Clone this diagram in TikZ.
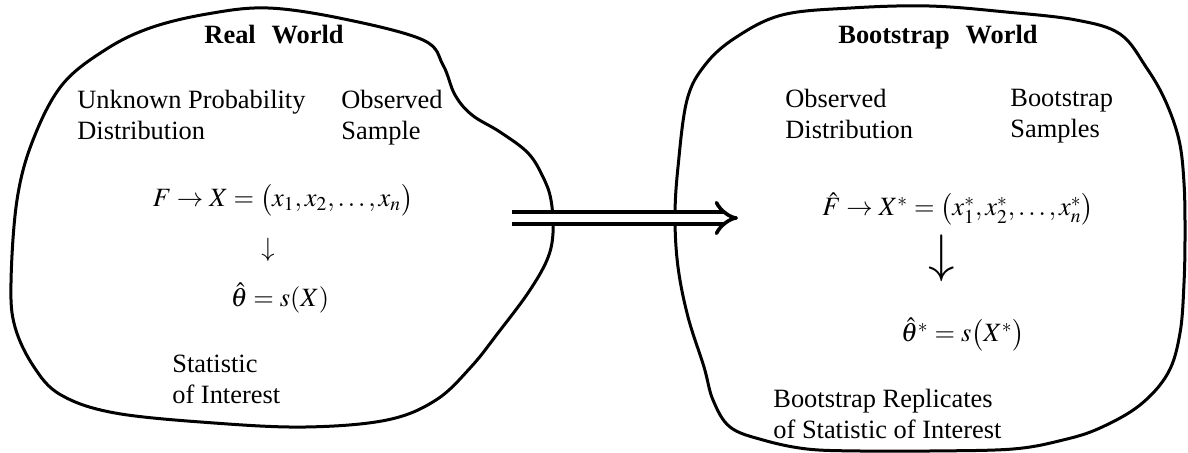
\documentclass[tikz,border=0pt]{standalone}
\usepackage{mathptmx}
\usepackage[no-math]{fontspec}
\setmainfont{Liberation Serif}
\usetikzlibrary{positioning}
\usetikzlibrary{arrows.meta}

\begin{document}
\begin{tikzpicture}[x=0.5pt, y=-0.5pt,
  blob/.style={line width=1.5pt, line join=round},
  txt/.style={anchor=north west, align=left, inner sep=0pt, font=\fontsize{13.2}{15.5}\selectfont},
  title/.style={anchor=base, inner sep=0pt, font=\fontsize{13.2}{15.5}\selectfont\bfseries},
  formula/.style={anchor=base, inner sep=0pt, font=\fontsize{13.2}{15.5}\selectfont}]
  \useasboundingbox (0,0) rectangle (1188,453);
  % real world
  \draw[blob] plot[smooth cycle, tension=0.6] coordinates {
    (207,14) (268,8) (344,19) (423,40) (443,65) (455,95) (472,115) (500,132)
    (528,153) (543,177) (551,200) (553,233) (547,260) (528,293) (498,333)
    (471,367) (436,400) (387,420) (306,427) (214,423) (115,413) (61,395)
    (34,367) (15,327) (11,283) (17,200) (33,140) (62,85) (105,50) (150,28)};
  \node(realtitle) [title] at (274,44) {Real\hspace{0.6em}World};
  \node(unknowndist) [txt] at (77,90) {Unknown Probability\\Distribution};
  \node(observedsample) [txt] at (341,90) {Observed\\Sample};
  \node(realsample) [formula] at (283,207) {$F \rightarrow X = \bigl(x_1, x_2, \ldots, x_n\bigr)$};
  \node(realarrow) [formula, anchor=center] at (268,250) {$\downarrow$};
  \node(realstat) [formula] at (280,307) {$\hat{\theta} = s(X)$};
  \node(statinterest) [txt] at (172,355) {Statistic\\of Interest};
  % bootstrap world
  \draw[blob] plot[smooth cycle, tension=0.6] coordinates {
    (782,15) (851,8) (929,6) (1006,12) (1076,20) (1120,34) (1146,67)
    (1165,100) (1179,140) (1184,183) (1185,233) (1184,283) (1180,333)
    (1168,373) (1140,405) (1100,428) (1063,440) (1013,449) (930,451)
    (860,451) (807,449) (763,440) (730,427) (713,400) (704,367) (688,317)
    (678,267) (675,217) (678,167) (687,100) (705,65) (735,38)};
  \node(boottitle) [title] at (938,44) {Bootstrap\hspace{0.6em}World};
  \node(observeddist) [txt] at (785,89) {Observed\\Distribution};
  \node(bootsamples) [txt] at (1010,89) {Bootstrap\\Samples};
  \node(bootsample) [formula] at (958,216) {$\hat{F} \rightarrow X^{*} = \bigl(x_1^{*}, x_2^{*}, \ldots, x_n^{*}\bigr)$};
  \node(bootarrow) [formula, anchor=center, scale=2] at (942,258) {$\downarrow$};
  \node(bootstat) [formula] at (963,342) {$\hat{\theta}^{*} = s\bigl(X^{*}\bigr)$};
  \node(bootreplicates) [txt] at (773,389) {Bootstrap Replicates\\of Statistic of Interest};
  % plug-in arrow
  \coordinate(arrowstart) at (512,218);
  \coordinate(arrowend) at (738,218);
  \draw[line width=1.8pt, double distance=4pt, -{Implies[length=8pt, width=17pt]}] (arrowstart) -- (arrowend);
\end{tikzpicture}
\end{document}
